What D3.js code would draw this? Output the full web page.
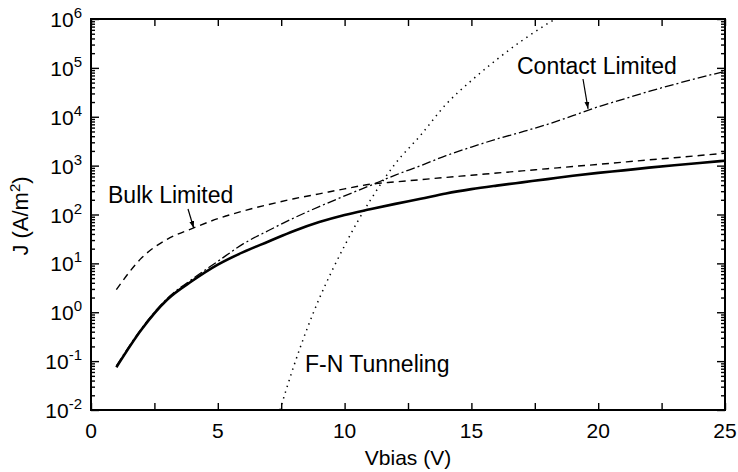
<!DOCTYPE html>
<html><head><meta charset="utf-8">
<script src="https://cdn.jsdelivr.net/npm/d3@7"></script>
<style>
body{margin:0;background:#fff}
text{font-family:"Liberation Sans",Arial,Helvetica,sans-serif;fill:#000}
</style>
</head><body>
<svg id="chart" width="738" height="472"></svg>
<script>
// ---- data ----
const xTickValues = [0, 5, 10, 15, 20, 25];
const xMinorTicks = [2.5, 7.5, 12.5, 17.5, 22.5];
const yTickExponents = [-2, -1, 0, 1, 2, 3, 4, 5, 6];

const totalV = [1, 2, 3, 4, 5, 6, 7, 8, 9, 10, 11, 12, 13, 14, 15, 16, 17, 18, 19, 20, 21, 22, 23, 24, 25];
const totalJ = [0.075, 0.45, 1.8, 4.4, 9.4, 17, 28, 46, 70, 98, 128, 165, 210, 270, 330, 390, 455, 530, 620, 710, 800, 910, 1020, 1130, 1260];

const bulkV = [1, 2, 3, 4, 5, 6, 7, 8, 9, 10, 11, 12, 13, 14, 15, 16, 17, 18, 19, 20, 21, 22, 23, 24, 25];
const bulkJ = [2.9, 13, 31, 52, 82, 118, 160, 210, 265, 335, 415, 465, 515, 575, 635, 705, 780, 865, 960, 1060, 1180, 1310, 1450, 1610, 1800];

const contactV = [1, 2, 3, 4, 5, 6, 7, 8, 9, 10, 11, 12, 13, 14, 15, 16, 17, 18, 19, 20, 21, 22, 23, 24, 25];
const contactJ = [0.08, 0.47, 1.9, 4.8, 11, 25, 47, 85, 145, 240, 390, 640, 1000, 1600, 2400, 3500, 4900, 7000, 10500, 16000, 23000, 33000, 46000, 63000, 85000];

const fnV = [7.45, 8, 8.5, 9, 9.5, 10, 10.5, 11, 12, 13, 14, 15, 16, 17, 18, 18.3];
const fnJ = [0.01, 0.08, 0.43, 1.9, 7, 23, 70, 190, 1100, 4200, 18000, 55000, 148000, 363000, 800000, 1000000];

// ---- layout ----
const svg = d3.select("#chart");
const L = 91, R = 725, T = 19, B = 410;
const x = d3.scaleLinear().domain([0, 25]).range([L, R]);
const y = d3.scaleLog().domain([1e-2, 1e6]).range([B, T]);

const defs = svg.append("defs");
defs.append("clipPath").attr("id", "clip").append("rect")
  .attr("x", L).attr("y", T).attr("width", R - L).attr("height", B - T);
defs.append("marker").attr("id", "arrow").attr("viewBox", "0 0 10 10")
  .attr("refX", 10).attr("refY", 5).attr("markerWidth", 7).attr("markerHeight", 8)
  .attr("markerUnits", "userSpaceOnUse").attr("orient", "auto")
  .append("path").attr("d", "M0,1.5 L10,5 L0,8.5 Z").attr("fill", "#000");

// minor y ticks
const minorY = [];
yTickExponents.slice(0, -1).forEach(e => { for (let k = 2; k <= 9; k++) minorY.push(k * Math.pow(10, e)); });
const majorY = yTickExponents.map(e => Math.pow(10, e));

function styleAxis(g) {
  g.select(".domain").remove();
  g.selectAll(".tick line").attr("stroke", "#000").attr("stroke-width", 1.4);
  g.selectAll(".tick text").remove();
}
svg.append("g").attr("transform", `translate(${L},0)`)
  .call(d3.axisLeft(y).tickValues(majorY).tickSize(-8).tickFormat("")).call(styleAxis);
svg.append("g").attr("transform", `translate(${L},0)`)
  .call(d3.axisLeft(y).tickValues(minorY).tickSize(-4).tickFormat("")).call(styleAxis);
svg.append("g").attr("transform", `translate(${R},0)`)
  .call(d3.axisRight(y).tickValues(majorY).tickSize(-8).tickFormat("")).call(styleAxis);
svg.append("g").attr("transform", `translate(${R},0)`)
  .call(d3.axisRight(y).tickValues(minorY).tickSize(-4).tickFormat("")).call(styleAxis);
const allX = xTickValues.concat(xMinorTicks);
svg.append("g").attr("transform", `translate(0,${B})`)
  .call(d3.axisBottom(x).tickValues(allX).tickSize(-7).tickFormat("")).call(styleAxis);
svg.append("g").attr("transform", `translate(0,${T})`)
  .call(d3.axisTop(x).tickValues(allX).tickSize(-7).tickFormat("")).call(styleAxis);

// frame
svg.append("rect").attr("x", L).attr("y", T).attr("width", R - L).attr("height", B - T)
  .attr("fill", "none").attr("stroke", "#000").attr("stroke-width", 2);

// tick labels
svg.append("g").selectAll("text").data(xTickValues).join("text")
  .attr("x", d => x(d)).attr("y", B + 28).attr("text-anchor", "middle")
  .attr("font-size", 21).text(d => d);

const yl = svg.append("g").selectAll("text").data(yTickExponents).join("text")
  .attr("x", L - 9).attr("y", d => y(Math.pow(10, d)) + 8).attr("text-anchor", "end")
  .attr("font-size", 21);
yl.append("tspan").text("10");
yl.append("tspan").attr("dy", -9).attr("font-size", 15).text(d => d < 0 ? "-" + Math.abs(d) : d);

// axis titles
svg.append("text").attr("x", (L + R) / 2).attr("y", 465).attr("text-anchor", "middle")
  .attr("font-size", 21).text("Vbias (V)");
const yt = svg.append("text").attr("transform", "translate(28,216) rotate(-90)")
  .attr("text-anchor", "middle").attr("font-size", 22);
yt.append("tspan").text("J (A/m");
yt.append("tspan").attr("dy", -8).attr("font-size", 15).text("2");
yt.append("tspan").attr("dy", 8).text(")");

// curves
const line = d3.line().x(d => x(d[0])).y(d => y(d[1])).curve(d3.curveMonotoneX);
const plot = svg.append("g").attr("clip-path", "url(#clip)");
function draw(vs, js, w, dash) {
  plot.append("path").datum(d3.zip(vs, js)).attr("d", line)
    .attr("fill", "none").attr("stroke", "#000").attr("stroke-width", w)
    .attr("stroke-dasharray", dash);
}
draw(fnV, fnJ, 1.5, "1.4,4.6");
draw(bulkV, bulkJ, 1.4, "7,5");
draw(contactV, contactJ, 1.3, "9,3,2,3");
draw(totalV, totalJ, 2.6, null);

// annotations
svg.append("text").attr("x", 108).attr("y", 203).attr("font-size", 23).text("Bulk Limited");
svg.append("line").attr("x1", 188).attr("y1", 209).attr("x2", x(4.05)).attr("y2", y(53))
  .attr("stroke", "#000").attr("stroke-width", 1.2).attr("marker-end", "url(#arrow)");
svg.append("text").attr("x", 517).attr("y", 74).attr("font-size", 23).text("Contact Limited");
svg.append("line").attr("x1", 583).attr("y1", 79).attr("x2", x(19.6)).attr("y2", y(14500))
  .attr("stroke", "#000").attr("stroke-width", 1.2).attr("marker-end", "url(#arrow)");
svg.append("text").attr("x", 305).attr("y", 372).attr("font-size", 23).text("F-N Tunneling");
</script>
</body></html>
